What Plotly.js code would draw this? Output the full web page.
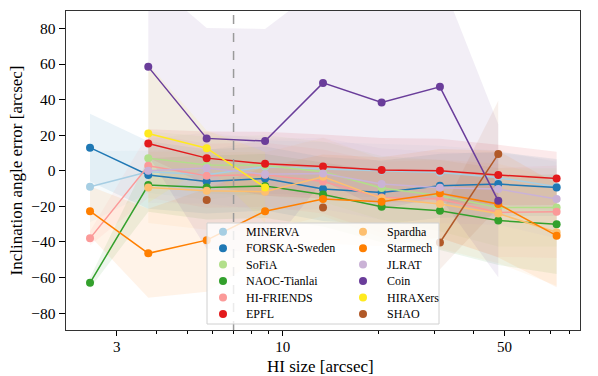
<!DOCTYPE html>
<html>
<head>
<meta charset="utf-8">
<script src="https://cdn.plot.ly/plotly-3.0.1.min.js"></script>
<style>
  html, body { margin: 0; padding: 0; background: #fff; }
  #chart { width: 598px; height: 376px; }
</style>
</head>
<body>
<div id="chart"></div>
<script>
// HI size bins (arcsec), shared by all teams
const hiSize = [2.47, 3.77, 5.76, 8.8, 13.4, 20.5, 31.3, 47.8, 73.0];

// mean inclination error per bin, and its spread (shaded band)
const minervaErr = [-9, -0.5, -2.3, 2.2, 1.0, 0.0, -1.0, -3.8, -9.0];
const minervaStd = [20, 12, 14, 15, 15, 15, 15, 15, 14];
const forskaErr = [13, -2.4, -6, -4.3, -10.3, -12.2, -8.4, -7.5, -9.4];
const forskaStd = [19, 19, 18, 18, 18, 18, 18, 18, 16];
const sofiaErr = [null, 7.1, 3.2, 3.0, -0.5, -9.7, -14, -20.6, -20.6];
const sofiaStd = [null, 15, 16, 17, 17, 18, 20, 22, 22];
const naocErr = [-63, -8, -9.4, -8.6, -13.3, -20.2, -22.5, -28, -30];
const naocStd = [3, 15, 18, 18, 18, 20, 22, 25, 28];
const friendsErr = [-38, 2.8, -2.8, -2.2, -6, -15, -15.9, -23.4, -23];
const friendsStd = [4, 18, 18, 18, 18, 20, 22, 25, 26];
const epflErr = [null, 15.3, 7.1, 3.9, 2.4, 0.4, 0.0, -2.4, -4.3];
const epflStd = [null, 8, 15, 18, 18, 18, 18, 17, 15];
const spardhaErr = [null, -9.4, -11.2, -11.8, -3.4, -15.5, -18.7, -24, -34.6];
const spardhaStd = [null, 20, 22, 22, 22, 22, 25, 28, 30];
const starmechErr = [-22.7, -46.4, -39, -22.7, -15.9, -17.4, -12.7, -18.7, -36.5];
const starmechStd = [14, 25, 29, 25, 25, 25, 25, 30, 29];
const jlratErr = [null, 0, 1.5, -2, -1.5, -7.5, -9.5, -10.3, -15.9];
const jlratStd = [null, 18, 20, 20, 20, 20, 20, 20, 22];
const coinErr = [null, 58.4, 18.2, 16.7, 49.4, 38.4, 47.2, -16.9, null];
const coinStd = [null, 50, 62, 63, 55, 60, 62, 43, null];
const hiraxErr = [null, 21, 12.7, -9.4, null, null, null, null, null];
const hiraxStd = [null, 39, 10, 20, null, null, null, null, null];
const shaoErr = [null, null, -16.5, null, -20.6, null, -40.3, 9.4, null];
const shaoStd = [null, null, 10, null, 10, null, 15, 30, null];

const resolutionLimit = 7;

const series = [
  { name: "MINERVA", mean: minervaErr, std: minervaStd, color: "#a6cee3" },
  { name: "FORSKA-Sweden", mean: forskaErr, std: forskaStd, color: "#1f78b4" },
  { name: "SoFiA", mean: sofiaErr, std: sofiaStd, color: "#b2df8a" },
  { name: "NAOC-Tianlai", mean: naocErr, std: naocStd, color: "#33a02c" },
  { name: "HI-FRIENDS", mean: friendsErr, std: friendsStd, color: "#fb9a99" },
  { name: "EPFL", mean: epflErr, std: epflStd, color: "#e31a1c" },
  { name: "Spardha", mean: spardhaErr, std: spardhaStd, color: "#fdbf6f" },
  { name: "Starmech", mean: starmechErr, std: starmechStd, color: "#ff7f00" },
  { name: "JLRAT", mean: jlratErr, std: jlratStd, color: "#cab2d6" },
  { name: "Coin", mean: coinErr, std: coinStd, color: "#6a3d9a" },
  { name: "HIRAXers", mean: hiraxErr, std: hiraxStd, color: "#ffea1f" },
  { name: "SHAO", mean: shaoErr, std: shaoStd, color: "#b15928" },
];

function rgba(hex, a) {
  const n = parseInt(hex.slice(1), 16);
  return `rgba(${(n >> 16) & 255},${(n >> 8) & 255},${n & 255},${a})`;
}

// polygon(s) of mean +/- std, one per run of consecutive bins
function bandTrace(s) {
  const runs = [];
  let run = [];
  s.mean.forEach((m, i) => {
    if (m === null) {
      if (run.length) runs.push(run);
      run = [];
    } else run.push(i);
  });
  if (run.length) runs.push(run);

  const xs = [];
  const ys = [];
  runs.filter((r) => r.length > 1).forEach((r) => {
    r.forEach((i) => { xs.push(hiSize[i]); ys.push(s.mean[i] + s.std[i]); });
    r.slice().reverse().forEach((i) => { xs.push(hiSize[i]); ys.push(s.mean[i] - s.std[i]); });
    xs.push(null);
    ys.push(null);
  });
  return {
    type: "scatter",
    mode: "lines",
    x: xs,
    y: ys,
    fill: "toself",
    fillcolor: rgba(s.color, 0.09),
    line: { width: 0, color: rgba(s.color, 0) },
    hoverinfo: "skip",
    showlegend: false,
  };
}

const traces = series.map(bandTrace).concat(
  series.map((s) => ({
    type: "scatter",
    mode: "lines+markers",
    name: s.name,
    x: hiSize,
    y: s.mean,
    line: { color: s.color, width: 1.5 },
    marker: { color: s.color, size: 8 },
    showlegend: false,
  })),
);

// legend drawn by hand: two columns of six, inside a translucent box
const plotL = 66, plotR = 580, plotT = 11, plotB = 330;
const px = (v) => (v - plotL) / (plotR - plotL);
const py = (v) => (plotB - v) / (plotB - plotT);

const shapes = [
  {
    type: "line", xref: "x", yref: "paper",
    x0: resolutionLimit, x1: resolutionLimit, y0: 0, y1: 1,
    line: { color: "#9a9a9a", width: 1.5, dash: "dash" },
  },
  {
    type: "rect", xref: "paper", yref: "paper",
    x0: px(207), x1: px(439), y0: py(324), y1: py(223),
    fillcolor: "rgba(255,255,255,0.8)",
    line: { color: "#d0d0d0", width: 1 },
  },
];
const annotations = [
  // x axis title, placed by hand to sit just under the tick labels
  {
    xref: "paper", yref: "paper", x: 0.495, y: py(366),
    xanchor: "center", yanchor: "middle", showarrow: false,
    text: "HI size [arcsec]", font: { size: 17, color: "#000" },
  },
];
series.forEach((s, i) => {
  const col = Math.floor(i / 6);
  const row = i % 6;
  const cy = 231.7 + row * 16.45;
  const mx = col === 0 ? 223 : 363;
  const tx = col === 0 ? 244 : 385;
  shapes.push({
    type: "circle", xref: "paper", yref: "paper",
    x0: px(mx - 4), x1: px(mx + 4), y0: py(cy + 4), y1: py(cy - 4),
    fillcolor: s.color, line: { width: 0 },
  });
  annotations.push({
    xref: "paper", yref: "paper", x: px(tx), y: py(cy),
    xanchor: "left", yanchor: "middle", showarrow: false,
    text: s.name, font: { size: 12, color: "#000" },
  });
});

const layout = {
  width: 598,
  height: 376,
  margin: { l: 66, r: 18, t: 11, b: 46 },
  paper_bgcolor: "#fff",
  plot_bgcolor: "#fff",
  font: { family: "Liberation Serif, Times New Roman, serif", color: "#000", size: 15 },
  showlegend: false,
  xaxis: {
    type: "log",
    range: [0.317, 1.937],
    tickmode: "array",
    tickvals: [3, 10, 50],
    ticktext: ["3", "10", "50"],
    ticks: "outside",
    ticklen: 4.5,
    tickcolor: "#000",
    tickfont: { size: 15 },
    ticklabelstandoff: -2,
    minor: {
      tickmode: "array",
      tickvals: [4, 5, 6, 7, 8, 9, 20, 30, 40, 60, 70, 80],
      ticks: "outside",
      ticklen: 3,
      tickcolor: "#000",
    },
    showgrid: false,
    zeroline: false,
    showline: true,
    mirror: true,
    linecolor: "#333",
    linewidth: 1.3,
  },
  yaxis: {
    range: [-89.5, 89.8],
    tickvals: [-80, -60, -40, -20, 0, 20, 40, 60, 80],
    ticks: "outside",
    ticklen: 6,
    tickcolor: "#000",
    tickfont: { size: 15.5 },
    showgrid: false,
    zeroline: false,
    showline: true,
    mirror: true,
    linecolor: "#333",
    linewidth: 1.3,
    title: { text: "Inclination angle error [arcsec]", font: { size: 17 }, standoff: 4 },
  },
  shapes: shapes,
  annotations: annotations,
};

Plotly.newPlot("chart", traces, layout, { displayModeBar: false, staticPlot: true });
</script>
</body>
</html>
